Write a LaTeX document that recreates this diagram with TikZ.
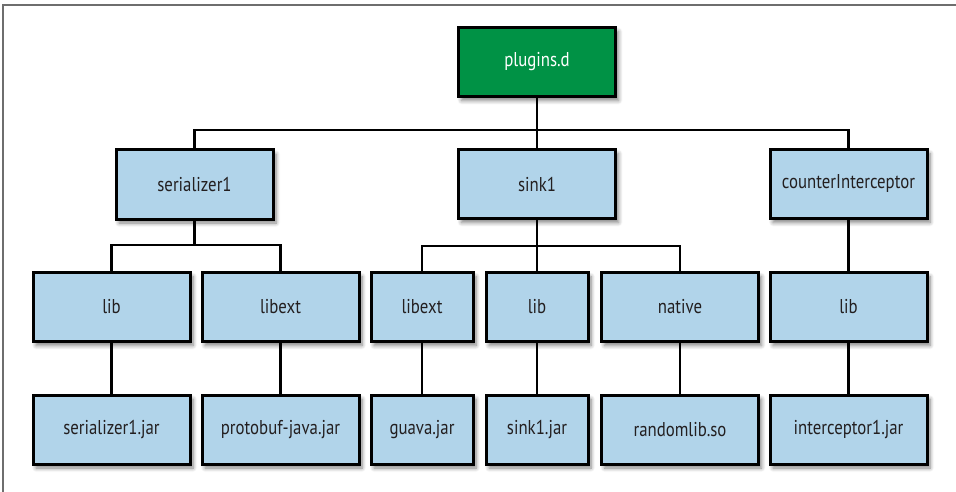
\documentclass[tikz,border=0pt]{standalone}
\usepackage{fontspec}
\setmainfont{PT Sans}[FakeStretch=0.84]
\usetikzlibrary{shadows.blur}
\pgfdeclarelayer{background}
\pgfsetlayers{background,main}
\definecolor{rootgreen}{RGB}{0,146,69}
\definecolor{boxblue}{RGB}{177,212,234}
\definecolor{ink}{RGB}{35,31,32}
\definecolor{framegray}{RGB}{110,110,110}
\tikzset{
  box/.style={draw=black, line width=3pt, fill=boxblue, text=ink,
    minimum width=157pt, minimum height=69pt, inner sep=0pt,
    font=\fontsize{20}{22}\selectfont,
    blur shadow={shadow xshift=3pt, shadow yshift=-4pt, shadow blur radius=4pt, shadow blur steps=6, shadow opacity=50}},
  narrow/.style={minimum width=102pt},
  root/.style={box, fill=rootgreen, text=white},
  wire/.style={draw=black, line width=2.4pt},
}
\begin{document}
\begin{tikzpicture}[x=1pt, y=-1pt]
\useasboundingbox (0,0) rectangle (956,492);
\draw[framegray, line width=1.3pt] (3,492) -- (3,5) -- (956,5);
% boxes
\node[root] (root) at (537,62) {plugins.d};
\node[box] (ser) at (194.5,184.5) {serializer1};
\node[box] (sink) at (537,184) {sink1};
\node[box] (ci) at (848.5,184) {counterInterceptor};
\node[box] (slib) at (111.5,307) {lib};
\node[box] (sext) at (280.5,307) {libext};
\node[box, narrow] (kext) at (422,307) {libext};
\node[box, narrow] (klib) at (537,307) {lib};
\node[box] (knat) at (680,307) {native};
\node[box] (clib) at (848.5,307) {lib};
\node[box] (sjar) at (111.5,429.5) {serializer1.jar};
\node[box] (pjar) at (280.5,429.5) {protobuf-java.jar};
\node[box, narrow] (gjar) at (422,429.5) {guava.jar};
\node[box, narrow] (kjar) at (537,429.5) {sink1.jar};
\node[box] (rso) at (680,429.5) {randomlib.so};
\node[box] (ijar) at (848.5,429.5) {interceptor1.jar};
% bus junctions
\coordinate (h1) at (537,130);
\coordinate (h2) at (194.5,245);
\coordinate (h3) at (537,246);
% connectors
\begin{pgfonlayer}{background}
\draw[wire] (root.south) -- (sink.north);
\draw[wire] (ser.north) |- (h1) -| (ci.north);
\draw[wire] (ser.south) -- (h2);
\draw[wire] (slib.north) |- (h2) -| (sext.north);
\draw[wire] (sink.south) -- (klib.north);
\draw[wire] (kext.north) |- (h3) -| (knat.north);
\draw[wire] (ci.south) -- (clib.north);
\draw[wire] (slib.south) -- (sjar.north);
\draw[wire] (sext.south) -- (pjar.north);
\draw[wire] (kext.south) -- (gjar.north);
\draw[wire] (klib.south) -- (kjar.north);
\draw[wire] (knat.south) -- (rso.north);
\draw[wire] (clib.south) -- (ijar.north);
\end{pgfonlayer}
\end{tikzpicture}
\end{document}
